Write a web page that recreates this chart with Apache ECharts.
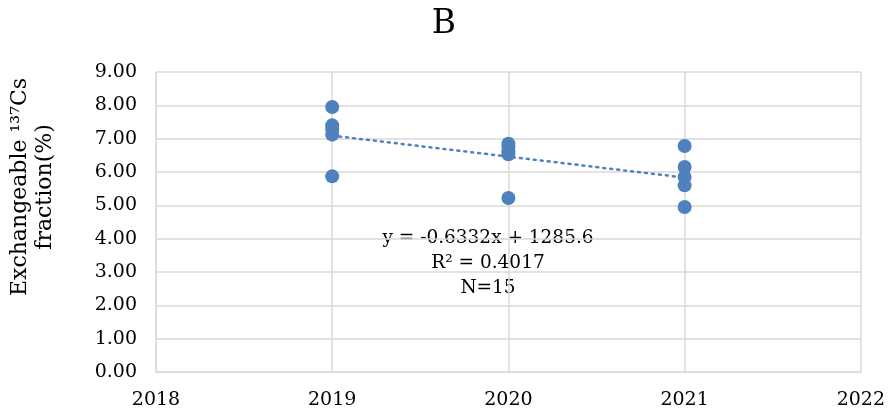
<!DOCTYPE html>
<html>
<head>
<meta charset="utf-8">
<script src="https://cdn.jsdelivr.net/npm/echarts@6/dist/echarts.min.js"></script>
<style>
  html, body { margin: 0; padding: 0; background: #fff; }
  #chart { width: 888px; height: 410px; }
</style>
</head>
<body>
<div id="chart"></div>
<script>
// data, 5 samples per year
var years = [2019, 2020, 2021];
var values2019 = [7.95, 7.40, 7.28, 7.12, 5.87];
var values2020 = [6.85, 6.75, 6.62, 6.53, 5.22];
var values2021 = [6.78, 6.15, 5.85, 5.60, 4.95];
var fitLabels = ['y = -0.6332x + 1285.6', 'R² = 0.4017', 'N=15'];
var yNameLines = ['Exchangeable ¹³⁷Cs', 'fraction(%)'];

var font = 'DejaVu Serif';
var blue = '#4F81BD';

var points = [];
[values2019, values2020, values2021].forEach(function (arr, i) {
  arr.forEach(function (v) { points.push([years[i], v]); });
});

// least squares trendline
var n = points.length, sx = 0, sy = 0, sxx = 0, sxy = 0;
points.forEach(function (p) {
  sx += p[0]; sy += p[1]; sxx += p[0] * p[0]; sxy += p[0] * p[1];
});
var slope = (n * sxy - sx * sy) / (n * sxx - sx * sx);
var icpt = (sy - slope * sx) / n;
var trend = [years[0], years[years.length - 1]].map(function (x) {
  return [x, slope * x + icpt];
});

var graphics = fitLabels.map(function (t, i) {
  return {
    type: 'text',
    x: 488,
    y: 238 + i * 25,
    style: {
      text: t,
      textAlign: 'center',
      textVerticalAlign: 'middle',
      font: '18.5px "' + font + '"',
      fill: '#000'
    }
  };
});
yNameLines.forEach(function (t, i) {
  graphics.push({
    type: 'text',
    x: 20 + i * 25,
    y: 187,
    rotation: Math.PI / 2,
    style: {
      text: t,
      textAlign: 'center',
      textVerticalAlign: 'middle',
      font: '22px "' + font + '"',
      fill: '#000'
    }
  });
});

var chart = echarts.init(document.getElementById('chart'));
chart.setOption({
  animation: false,
  title: {
    text: 'B',
    left: 'center',
    top: 3,
    textStyle: { fontFamily: font, fontSize: 33, fontWeight: 'normal', color: '#000' }
  },
  grid: { left: 156, right: 27, top: 72, bottom: 38 },
  xAxis: {
    type: 'value',
    min: 2018,
    max: 2022,
    interval: 1,
    axisLine: { show: true, lineStyle: { color: '#d9d9d9', width: 1 } },
    axisTick: { show: false },
    splitLine: { show: true, lineStyle: { color: '#d9d9d9', width: 1.5 } },
    axisLabel: {
      fontFamily: font, fontSize: 19, color: '#000', margin: 19,
      formatter: function (v) { return String(v); }
    }
  },
  yAxis: {
    type: 'value',
    min: 0,
    max: 9,
    interval: 1,
    axisLine: { show: true, lineStyle: { color: '#d9d9d9', width: 1 } },
    axisTick: { show: false },
    splitLine: { lineStyle: { color: '#d9d9d9', width: 1.5 } },
    axisLabel: {
      fontFamily: font, fontSize: 19, color: '#000', margin: 19,
      formatter: function (v) { return v.toFixed(2); }
    }
  },
  series: [
    {
      type: 'line',
      data: trend,
      symbol: 'none',
      lineStyle: { color: blue, width: 2.5, type: [2, 5], cap: 'round' },
      z: 1
    },
    {
      type: 'scatter',
      data: points,
      symbolSize: 14,
      itemStyle: { color: blue, opacity: 1 },
      z: 2
    }
  ],
  graphic: graphics
});
</script>
</body>
</html>
